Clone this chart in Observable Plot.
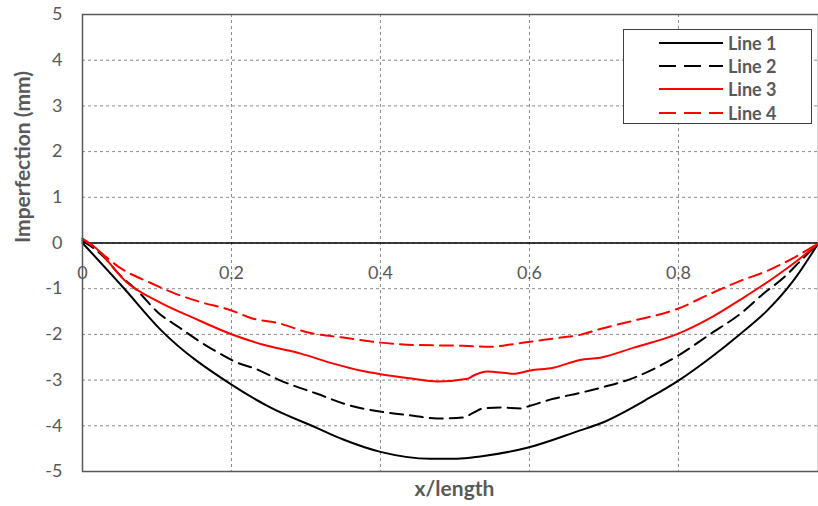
<!DOCTYPE html>
<html>
<head>
<meta charset="utf-8">
<script src="https://cdn.jsdelivr.net/npm/d3@7"></script>
<script src="https://cdn.jsdelivr.net/npm/@observablehq/plot@0.6"></script>
<style>
  html, body { margin: 0; padding: 0; background: #fff; overflow: hidden; }
  #wrap { position: relative; width: 818px; height: 506px; overflow: hidden; font-family: Lato, "Open Sans", sans-serif; }
  #legend { position: absolute; left: 623px; top: 29px; width: 189px; height: 95px; border: 1.3px solid #404040; background: #fff; box-sizing: border-box; }
  .item { position: absolute; left: 0; height: 22px; display: flex; align-items: center; }
  .item span { font-weight: bold; font-size: 18px; color: #595959; margin-left: 5px; }
</style>
</head>
<body>
<div id="wrap"><div id="chart"></div><div id="legend"></div></div>
<script>
const seriesNames = ["Line 1", "Line 2", "Line 3", "Line 4"];
const seriesColors = ["#000000", "#000000", "#ff0000", "#ff0000"];
const seriesDash = [null, "13,7", null, "13,7"];

const line1X = [0, 0.055, 0.105, 0.2, 0.25, 0.315, 0.35, 0.4, 0.467, 0.503, 0.534, 0.597, 0.668, 0.695, 0.762, 0.8, 0.843, 0.883, 0.919, 0.954, 0.988];
const line1Y = [0, -0.98, -1.9, -3.1, -3.58, -4.05, -4.3, -4.57, -4.72, -4.72, -4.67, -4.48, -4.1, -3.95, -3.38, -3.01, -2.51, -1.99, -1.48, -0.83, 0];

const line2X = [0, 0.029, 0.049, 0.074, 0.102, 0.13, 0.154, 0.18, 0.208, 0.232, 0.266, 0.315, 0.36, 0.4, 0.444, 0.476, 0.511, 0.525, 0.538, 0.561, 0.588, 0.601, 0.632, 0.668, 0.695, 0.74, 0.799, 0.843, 0.883, 0.914, 0.941, 0.964, 0.988];
const line2Y = [0.05, -0.31, -0.68, -1.05, -1.53, -1.85, -2.12, -2.38, -2.62, -2.75, -3.01, -3.3, -3.56, -3.69, -3.78, -3.84, -3.82, -3.71, -3.62, -3.6, -3.62, -3.56, -3.41, -3.28, -3.17, -2.95, -2.47, -1.99, -1.55, -1.11, -0.76, -0.39, 0];

const line3X = [0, 0.015, 0.06, 0.105, 0.149, 0.199, 0.248, 0.293, 0.337, 0.373, 0.4, 0.444, 0.476, 0.517, 0.525, 0.543, 0.579, 0.601, 0.632, 0.668, 0.695, 0.74, 0.799, 0.843, 0.887, 0.928, 0.964, 0.988];
const line3Y = [0.09, -0.07, -0.87, -1.31, -1.64, -1.99, -2.25, -2.42, -2.64, -2.79, -2.87, -2.97, -3.03, -2.97, -2.9, -2.81, -2.86, -2.79, -2.73, -2.56, -2.51, -2.29, -1.99, -1.64, -1.2, -0.76, -0.33, 0];

const line4X = [0, 0.02, 0.051, 0.091, 0.122, 0.158, 0.199, 0.226, 0.262, 0.306, 0.35, 0.4, 0.444, 0.511, 0.548, 0.579, 0.601, 0.642, 0.668, 0.695, 0.74, 0.799, 0.843, 0.883, 0.919, 0.954, 0.988];
const line4Y = [0.1, -0.15, -0.55, -0.87, -1.09, -1.29, -1.47, -1.64, -1.75, -1.97, -2.07, -2.18, -2.23, -2.25, -2.27, -2.21, -2.16, -2.07, -2.01, -1.88, -1.7, -1.44, -1.11, -0.83, -0.61, -0.33, 0];

const xTicks = [0, 0.2, 0.4, 0.6, 0.8];
const xTickLabels = ["0", "0.2", "0.4", "0.6", "0.8"];
const yTicks = [-5, -4, -3, -2, -1, 0, 1, 2, 3, 4, 5];
const xTitle = "x/length";
const yTitle = "Imperfection (mm)";

const allX = [line1X, line2X, line3X, line4X];
const allY = [line1Y, line2Y, line3Y, line4Y];

const lineMarks = allX.map((xs, i) => {
  const rows = xs.map((x, j) => ({x, y: allY[i][j]}));
  const opts = {x: "x", y: "y", stroke: seriesColors[i], strokeWidth: 2, curve: "monotone-x"};
  if (seriesDash[i]) opts.strokeDasharray = seriesDash[i];
  return Plot.line(rows, opts);
});

const chart = Plot.plot({
  width: 818,
  height: 506,
  marginLeft: 82,
  marginRight: 0,
  marginTop: 14,
  marginBottom: 35,
  style: {fontFamily: "Lato, 'Open Sans', sans-serif", background: "#fff"},
  x: {domain: [0, 0.988], axis: null},
  y: {domain: [-5, 5], axis: null},
  marks: [
    Plot.gridX(xTicks, {stroke: "#8a8a8a", strokeOpacity: 1, strokeDasharray: "3,3"}),
    Plot.gridY(yTicks, {stroke: "#8a8a8a", strokeOpacity: 1, strokeDasharray: "3,3"}),
    Plot.ruleY([0], {stroke: "#000", strokeWidth: 1.3}),
    Plot.text(xTicks, {x: d => d, y: 0, dy: 30, text: (d, i) => xTickLabels[i], fontSize: 18, fill: "#595959"}),
    Plot.axisY(yTicks, {tickSize: 0, tickPadding: 20, fontSize: 18, fill: "#595959", tickFormat: d => String(d), label: null}),
    ...lineMarks,
    Plot.frame({stroke: "#595959", strokeWidth: 1.5}),
    Plot.text([yTitle], {frameAnchor: "left", dx: -59, rotate: -90, fontSize: 21, fontWeight: "bold", fill: "#595959"}),
    Plot.text([xTitle], {frameAnchor: "bottom", dx: 4, dy: 24, fontSize: 21, fontWeight: "bold", fill: "#595959"})
  ]
});
document.getElementById("chart").appendChild(chart);

const legend = document.getElementById("legend");
const tops = [2, 25, 48, 72];
seriesNames.forEach((name, i) => {
  const item = document.createElement("div");
  item.className = "item";
  item.style.top = tops[i] + "px";
  item.style.left = "35px";
  const ns = "http://www.w3.org/2000/svg";
  const svg = document.createElementNS(ns, "svg");
  svg.setAttribute("width", "64");
  svg.setAttribute("height", "22");
  const ln = document.createElementNS(ns, "line");
  ln.setAttribute("x1", "0"); ln.setAttribute("x2", "64");
  ln.setAttribute("y1", "11"); ln.setAttribute("y2", "11");
  ln.setAttribute("stroke", seriesColors[i]);
  ln.setAttribute("stroke-width", "2");
  if (seriesDash[i]) ln.setAttribute("stroke-dasharray", "17,8");
  svg.appendChild(ln);
  const sp = document.createElement("span");
  sp.textContent = name;
  item.appendChild(svg);
  item.appendChild(sp);
  legend.appendChild(item);
});
</script>
</body>
</html>
